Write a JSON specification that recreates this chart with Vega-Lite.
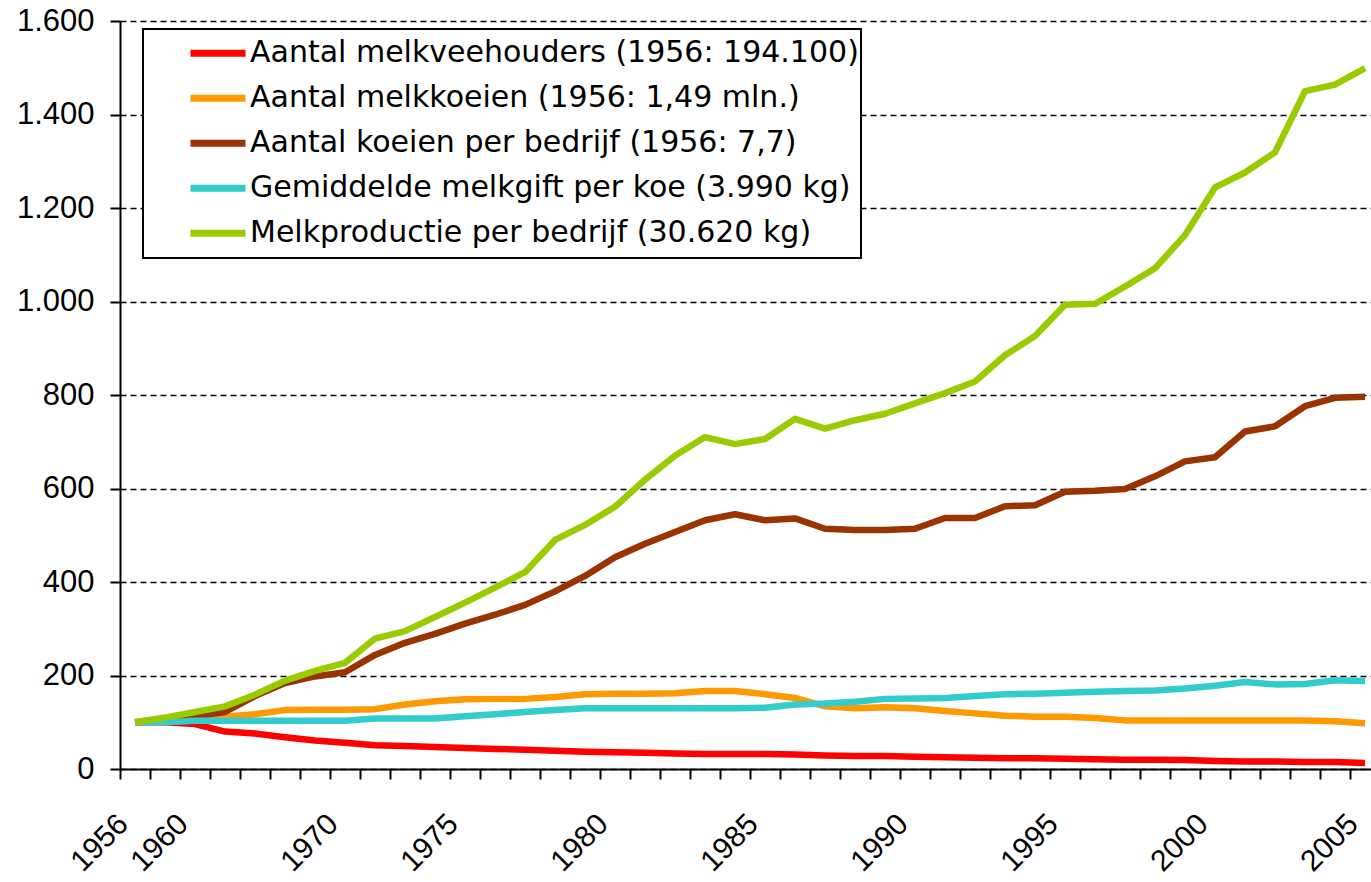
{
  "$schema": "https://vega.github.io/schema/vega-lite/v6.json",
  "autosize": {"type": "none"},
  "width": 1251,
  "height": 748,
  "padding": {"left": 120, "top": 21, "right": 0, "bottom": 113},
  "background": "white",
  "data": {
    "values": [
      {"jaar": "1956", "mvh": 100, "mk": 100, "kpb": 100, "mg": 100, "mp": 100},
      {"jaar": "1958", "mvh": 100, "mk": 102, "kpb": 108, "mg": 100, "mp": 110},
      {"jaar": "1960", "mvh": 96, "mk": 106, "kpb": 113, "mg": 103, "mp": 122},
      {"jaar": "1962", "mvh": 80, "mk": 112, "kpb": 122, "mg": 103, "mp": 134},
      {"jaar": "1964", "mvh": 76, "mk": 117, "kpb": 156, "mg": 103, "mp": 159},
      {"jaar": "1966", "mvh": 68, "mk": 126, "kpb": 184, "mg": 103, "mp": 189},
      {"jaar": "1968", "mvh": 61, "mk": 127, "kpb": 198, "mg": 103, "mp": 210},
      {"jaar": "1970", "mvh": 56, "mk": 127, "kpb": 207, "mg": 103, "mp": 227},
      {"jaar": "1972", "mvh": 51, "mk": 128, "kpb": 244, "mg": 108, "mp": 279},
      {"jaar": "1973", "mvh": 49, "mk": 138, "kpb": 270, "mg": 108, "mp": 295},
      {"jaar": "1974", "mvh": 47, "mk": 145, "kpb": 289, "mg": 108, "mp": 325},
      {"jaar": "1975", "mvh": 45, "mk": 149, "kpb": 311, "mg": 113, "mp": 356},
      {"jaar": "1976", "mvh": 43, "mk": 150, "kpb": 330, "mg": 117, "mp": 388},
      {"jaar": "1977", "mvh": 41, "mk": 150, "kpb": 351, "mg": 122, "mp": 421},
      {"jaar": "1978", "mvh": 39, "mk": 154, "kpb": 380, "mg": 126, "mp": 490},
      {"jaar": "1979", "mvh": 37, "mk": 160, "kpb": 413, "mg": 130, "mp": 522},
      {"jaar": "1980", "mvh": 36, "mk": 161, "kpb": 453, "mg": 130, "mp": 561},
      {"jaar": "1981", "mvh": 35, "mk": 161, "kpb": 482, "mg": 130, "mp": 619},
      {"jaar": "1982", "mvh": 33, "mk": 162, "kpb": 507, "mg": 130, "mp": 670},
      {"jaar": "1983", "mvh": 32, "mk": 167, "kpb": 532, "mg": 130, "mp": 710},
      {"jaar": "1984", "mvh": 32, "mk": 167, "kpb": 545, "mg": 130, "mp": 695},
      {"jaar": "1985", "mvh": 32, "mk": 160, "kpb": 532, "mg": 131, "mp": 706},
      {"jaar": "1986", "mvh": 31, "mk": 152, "kpb": 536, "mg": 138, "mp": 749},
      {"jaar": "1987", "mvh": 29, "mk": 134, "kpb": 514, "mg": 140, "mp": 728},
      {"jaar": "1988", "mvh": 28, "mk": 130, "kpb": 511, "mg": 144, "mp": 746},
      {"jaar": "1989", "mvh": 28, "mk": 132, "kpb": 511, "mg": 150, "mp": 760},
      {"jaar": "1990", "mvh": 26, "mk": 130, "kpb": 514, "mg": 151, "mp": 782},
      {"jaar": "1991", "mvh": 25, "mk": 124, "kpb": 537, "mg": 152, "mp": 804},
      {"jaar": "1992", "mvh": 24, "mk": 119, "kpb": 537, "mg": 156, "mp": 829},
      {"jaar": "1993", "mvh": 23, "mk": 114, "kpb": 562, "mg": 160, "mp": 885},
      {"jaar": "1994", "mvh": 23, "mk": 112, "kpb": 564, "mg": 161, "mp": 926},
      {"jaar": "1995", "mvh": 22, "mk": 112, "kpb": 593, "mg": 163, "mp": 993},
      {"jaar": "1996", "mvh": 21, "mk": 109, "kpb": 595, "mg": 165, "mp": 995},
      {"jaar": "1997", "mvh": 20, "mk": 104, "kpb": 599, "mg": 167, "mp": 1032},
      {"jaar": "1998", "mvh": 20, "mk": 104, "kpb": 626, "mg": 168, "mp": 1071},
      {"jaar": "1999", "mvh": 19, "mk": 104, "kpb": 658, "mg": 172, "mp": 1142},
      {"jaar": "2000", "mvh": 17, "mk": 104, "kpb": 667, "mg": 178, "mp": 1244},
      {"jaar": "2001", "mvh": 16, "mk": 104, "kpb": 722, "mg": 186, "mp": 1276},
      {"jaar": "2002", "mvh": 16, "mk": 104, "kpb": 733, "mg": 181, "mp": 1319},
      {"jaar": "2003", "mvh": 15, "mk": 104, "kpb": 776, "mg": 182, "mp": 1450},
      {"jaar": "2004", "mvh": 15, "mk": 102, "kpb": 794, "mg": 190, "mp": 1464},
      {"jaar": "2005", "mvh": 13, "mk": 98, "kpb": 796, "mg": 188, "mp": 1499}
    ]
  },
  "transform": [
    {"fold": ["mvh", "mk", "kpb", "mg", "mp"], "as": ["reeks", "index"]}
  ],
  "mark": {"type": "line", "strokeWidth": 6.5, "strokeJoin": "round"},
  "encoding": {
    "x": {
      "field": "jaar",
      "type": "ordinal",
      "sort": null,
      "scale": {"type": "band", "range": [0, 1260], "paddingInner": 0, "paddingOuter": 0},
      "axis": {
        "title": null,
        "tickBand": "extent",
        "tickSize": 10,
        "tickWidth": 2,
        "tickColor": "#000",
        "domainColor": "#000",
        "domainWidth": 2,
        "grid": false,
        "labelAngle": -45,
        "labelAlign": "right",
        "labelBaseline": "middle",
        "labelPadding": 40,
        "labelOffset": -12,
        "labelFont": "Liberation Sans",
        "labelFontSize": 30,
        "labelColor": "#000",
        "labelOverlap": false,
        "labelBound": false,
        "labelExpr": "indexof(['1956','1960','1970','1975','1980','1985','1990','1995','2000','2005'], datum.label) >= 0 ? datum.label : ''"
      }
    },
    "y": {
      "field": "index",
      "type": "quantitative",
      "scale": {"domain": [0, 1600], "nice": false, "zero": true},
      "axis": {
        "title": null,
        "values": [0, 200, 400, 600, 800, 1000, 1200, 1400, 1600],
        "tickSize": 10,
        "tickWidth": 2,
        "tickColor": "#000",
        "domainColor": "#000",
        "domainWidth": 2,
        "grid": true,
        "gridColor": "#000",
        "gridWidth": 1.3,
        "gridDash": [6, 4],
        "labelPadding": 16,
        "labelFont": "Liberation Sans",
        "labelFontSize": 31,
        "labelColor": "#000",
        "labelExpr": "replace(format(datum.value, ','), ',', '.')"
      }
    },
    "color": {
      "field": "reeks",
      "type": "nominal",
      "scale": {
        "domain": ["mvh", "mk", "kpb", "mg", "mp"],
        "range": ["#FF0000", "#FF9900", "#993300", "#33CCCC", "#99CC00"]
      },
      "legend": {
        "title": null,
        "orient": "none",
        "legendX": 23,
        "legendY": 8,
        "direction": "vertical",
        "fillColor": "white",
        "strokeColor": "#000",
        "padding": 2,
        "symbolType": "stroke",
        "symbolSize": 3025,
        "symbolStrokeWidth": 7,
        "symbolOffset": 42,
        "labelOffset": 1,
        "clipHeight": 44.5,
        "rowPadding": 0,
        "labelFont": "DejaVu Sans",
        "labelFontSize": 30,
        "labelColor": "#000",
        "labelLimit": 800,
        "labelExpr": "datum.label == 'mvh' ? 'Aantal melkveehouders (1956: 194.100)' : datum.label == 'mk' ? 'Aantal melkkoeien (1956: 1,49 mln.)' : datum.label == 'kpb' ? 'Aantal koeien per bedrijf (1956: 7,7)' : datum.label == 'mg' ? 'Gemiddelde melkgift per koe (3.990 kg)' : 'Melkproductie per bedrijf (30.620 kg)'"
      }
    }
  },
  "config": {
    "view": {"stroke": null},
    "legend": {"strokeWidth": 2}
  }
}
